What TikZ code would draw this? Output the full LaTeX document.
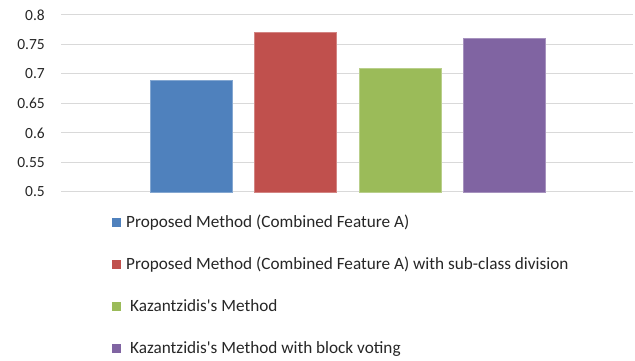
\documentclass[tikz,border=0pt]{standalone}
\usepackage{fontspec}
\setmainfont{Carlito}
\definecolor{sblue}{HTML}{4F81BD}
\definecolor{sred}{HTML}{C0504D}
\definecolor{sgreen}{HTML}{9BBB59}
\definecolor{spurple}{HTML}{8064A2}
\definecolor{gridgray}{HTML}{D9D9D9}
\tikzset{
  gridline/.style={draw=gridgray, line width=1pt},
  ticklabel/.style={anchor=east, inner sep=0pt, font=\fontsize{15.5}{18}\selectfont, text=black!85},
  bar/.style={line width=0.6pt},
  legtext/.style={anchor=base west, inner sep=0pt, font=\fontsize{17.2}{20}\selectfont, text=black!85},
  legkey/.style={minimum size=9pt, inner sep=0pt, anchor=south west}
}
\begin{document}
\begin{tikzpicture}[x=1pt,y=1pt]
  \useasboundingbox (0,0) rectangle (635,361);
  % value v sits at height 169 + 590*(v-0.5)
  \foreach \v/\t in {0.5/0.5,0.55/0.55,0.6/0.6,0.65/0.65,0.7/0.7,0.75/0.75,0.8/0.8}{
    \pgfmathsetmacro{\yy}{169+590*(\v-0.5)}
    \draw[gridline] (61,\yy) -- (633,\yy);
    \node[ticklabel] (tick\t) at (45,\yy) {\t};
  }
  % bars
  \foreach \x/\v/\c in {150/0.69/sblue, 254/0.77/sred, 359/0.71/sgreen, 463/0.76/spurple}{
    \pgfmathsetmacro{\yy}{169+590*(\v-0.5)}
    \filldraw[bar, fill=\c, draw=\c!70!white] (\x,169) rectangle ++(82,\yy-169);
  }
  % legend
  \node[legkey, fill=sblue]   (k1) at (112,133.5) {};
  \node[legtext] (l1) at (126,133) {Proposed Method (Combined Feature A)};
  \node[legkey, fill=sred]    (k2) at (112,91.5) {};
  \node[legtext] (l2) at (126,91) {Proposed Method (Combined Feature A) with sub-class division};
  \node[legkey, fill=sgreen]  (k3) at (112,49.5) {};
  \node[legtext] (l3) at (130,49) {Kazantzidis\textquotesingle s Method};
  \node[legkey, fill=spurple] (k4) at (112,7.5) {};
  \node[legtext] (l4) at (130,7) {Kazantzidis\textquotesingle s Method with block voting};
\end{tikzpicture}
\end{document}
